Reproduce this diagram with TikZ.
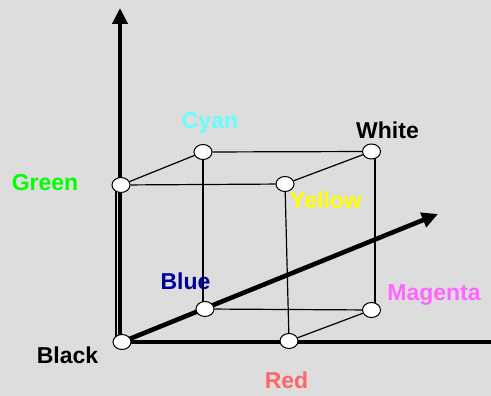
\documentclass[tikz,border=0pt]{standalone}
\usepackage{fontspec}
\setmainfont{Liberation Sans}
\usetikzlibrary{calc,positioning,shapes.geometric,arrows.meta}
\definecolor{RGBBack}{HTML}{DDDDDD}
\definecolor{RGBGreen}{HTML}{00FF00}
\definecolor{RGBCyan}{HTML}{66FFFF}
\definecolor{RGBYellow}{HTML}{FFFF00}
\definecolor{RGBBlue}{HTML}{000099}
\definecolor{RGBMagenta}{HTML}{FF66FF}
\definecolor{RGBRed}{HTML}{FF6666}
\pgfdeclarelayer{back}
\pgfdeclarelayer{edges}
\pgfsetlayers{back,edges,main}
\begin{document}
\begin{tikzpicture}[x=1pt,y=-1pt,
      vtx/.style={ellipse,draw=black,fill=white,line width=1pt,minimum width=18pt,minimum height=15pt,inner sep=0pt},
      edg/.style={line width=1.2pt,color=black},
      ax/.style={-{Triangle[length=16pt,width=15pt]},line width=4.6pt,color=black},
      lbl/.style={font=\fontsize{23pt}{25pt}\selectfont\bfseries,anchor=base,inner sep=0pt}]
      \useasboundingbox (0,0) rectangle (491,396);
      \begin{pgfonlayer}{back}
        \fill[RGBBack] (0,0) rectangle (491,396);
      \end{pgfonlayer}
      \clip (0,0) rectangle (491,396);
      % cube corners
      \node[vtx] (k) at (122,342) {};
      \node[vtx] (r) at (289,341) {};
      \node[vtx] (g) at (121,185) {};
      \node[vtx] (b) at (205,309) {};
      \node[vtx] (c) at (203,152) {};
      \node[vtx] (m) at (371.5,310) {};
      \node[vtx] (y) at (285,184) {};
      \node[vtx] (w) at (371.5,151.5) {};
      \coordinate (ztip) at (120,8);
      \coordinate (xtip) at (507,342);
      \coordinate (dtip) at (438,214);
      % labels
      \node[lbl,text=RGBGreen] (lg) at (45,191) {Green};
      \node[lbl,text=black] (lk) at (67.5,363) {Black};
      \node[lbl,text=RGBRed] (lr) at (286.5,388) {Red};
      \node[lbl,text=RGBBlue] (lb) at (185.5,289) {Blue};
      \node[lbl,text=RGBMagenta] (lm) at (434,300) {Magenta};
      \node[lbl,text=RGBYellow] (ly) at (326,209) {Yellow};
      \node[lbl,text=black] (lw) at (387.5,139) {White};
      \node[lbl,text=RGBCyan] (lc) at (210,129) {Cyan};
      \begin{pgfonlayer}{edges}
        \draw[ax] ([xshift=-2pt]k.center) -- (ztip);
        \draw[ax] (k.center) -- (xtip);
        \draw[ax] (k.center) -- (dtip);
        \draw[edg] ([xshift=-5pt]g.center) -- ([xshift=-6pt]k.center);
        \draw[edg] (g) -- (c); \draw[edg] (g) -- (y);
        \draw[edg] (c) -- (w); \draw[edg] (y) -- (w);
        \draw[edg] (c) -- (c |- b); \draw[edg] (y) -- (r);
        \draw[edg] ([xshift=3.5pt]w.center) -- ([xshift=3.5pt]m.center);
        \draw[edg] (b) -- (m); \draw[edg] (r) -- (m);
      \end{pgfonlayer}
    \end{tikzpicture}
\end{document}
